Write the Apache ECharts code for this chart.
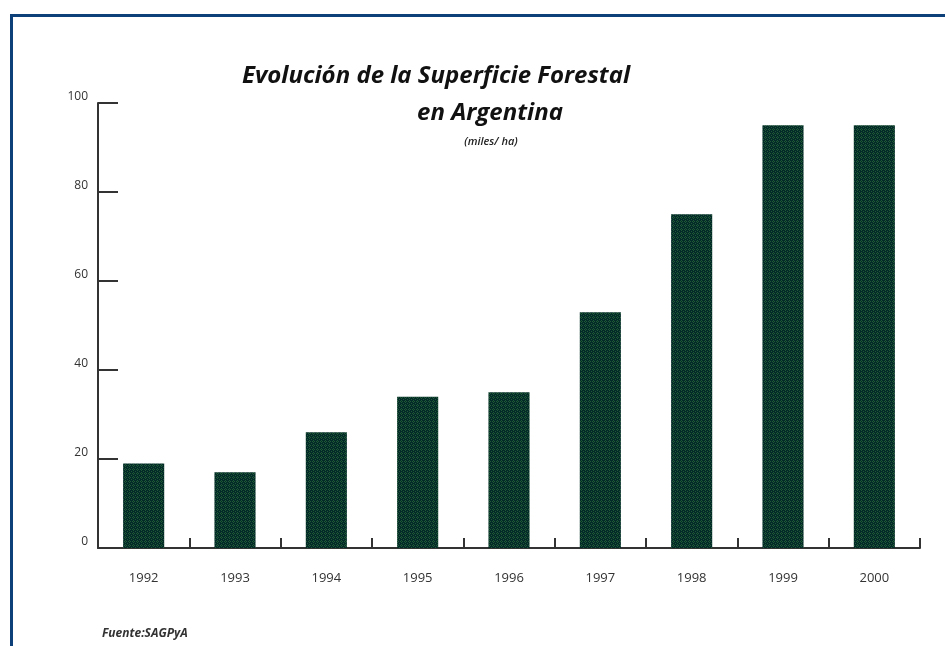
<!DOCTYPE html>
<html>
<head>
<meta charset="utf-8">
<script src="https://cdn.jsdelivr.net/npm/echarts@6/dist/echarts.min.js"></script>
<style>
  html, body { margin: 0; padding: 0; background: #fff; }
  #frame {
    position: absolute; left: 10px; top: 14px; width: 935px; height: 632px;
    border-top: 3px solid #0d3f78; border-left: 3px solid #0d3f78;
  }
  #chart { position: absolute; left: 0; top: 0; width: 945px; height: 646px; }
</style>
</head>
<body>
<div id="frame"></div>
<div id="chart"></div>
<script>
const years = ["1992", "1993", "1994", "1995", "1996", "1997", "1998", "1999", "2000"];
const superficie = [19, 17, 26, 34, 35, 53, 75, 95, 95];
const yTicks = [0, 20, 40, 60, 80, 100];

// relleno tramado de las barras
const makePattern = () => {
  const c = document.createElement("canvas");
  c.width = 4; c.height = 4;
  const ctx = c.getContext("2d");
  ctx.fillStyle = "#032a28";
  ctx.fillRect(0, 0, 4, 4);
  ctx.fillStyle = "#1f5a34";
  [[1, 0], [0, 1], [2, 1], [1, 2], [3, 3]].forEach(p => ctx.fillRect(p[0], p[1], 1, 1));
  return c;
};

const chart = echarts.init(document.getElementById("chart"));

const titleFont = { fontFamily: "Open Sans", fontStyle: "italic", fontWeight: 700, fontSize: 24, color: "#111" };

const option = {
  animation: false,
  title: [
    { text: "Evolución de la Superficie Forestal", left: 431, top: 59, textAlign: "center", textStyle: titleFont },
    { text: "en Argentina", left: 485, top: 96, textAlign: "center", textStyle: titleFont },
    {
      text: "(miles/ ha)",
      left: 486, top: 131, textAlign: "center",
      textStyle: { fontFamily: "Open Sans", fontStyle: "italic", fontWeight: 600, fontSize: 11, color: "#222" }
    },
    {
      text: "Fuente:SAGPyA",
      left: 97, top: 623,
      textStyle: { fontFamily: "Open Sans", fontStyle: "italic", fontWeight: 700, fontSize: 12, color: "#333" }
    }
  ],
  grid: { left: 98, right: 25, top: 103, bottom: 98 },
  xAxis: {
    type: "category",
    data: years,
    boundaryGap: true,
    axisLine: { lineStyle: { color: "#333", width: 2 } },
    axisTick: { show: true, interval: 0, inside: true, length: 10, alignWithLabel: false, lineStyle: { color: "#333", width: 2 } },
    axisLabel: { margin: 24, color: "#333", fontFamily: "Open Sans", fontSize: 13 }
  },
  yAxis: {
    type: "value",
    min: yTicks[0],
    max: yTicks[yTicks.length - 1],
    interval: 20,
    splitLine: { show: false },
    axisLine: { show: true, lineStyle: { color: "#333", width: 2 } },
    axisTick: { show: true, inside: true, length: 20, lineStyle: { color: "#333", width: 2 } },
    axisLabel: { margin: 10, color: "#333", fontFamily: "Open Sans", fontSize: 12, verticalAlign: "bottom" }
  },
  series: [
    {
      type: "bar",
      data: superficie,
      barWidth: "45%",
      itemStyle: { color: { image: makePattern(), repeat: "repeat" } }
    }
  ]
};

chart.setOption(option);
</script>
</body>
</html>
